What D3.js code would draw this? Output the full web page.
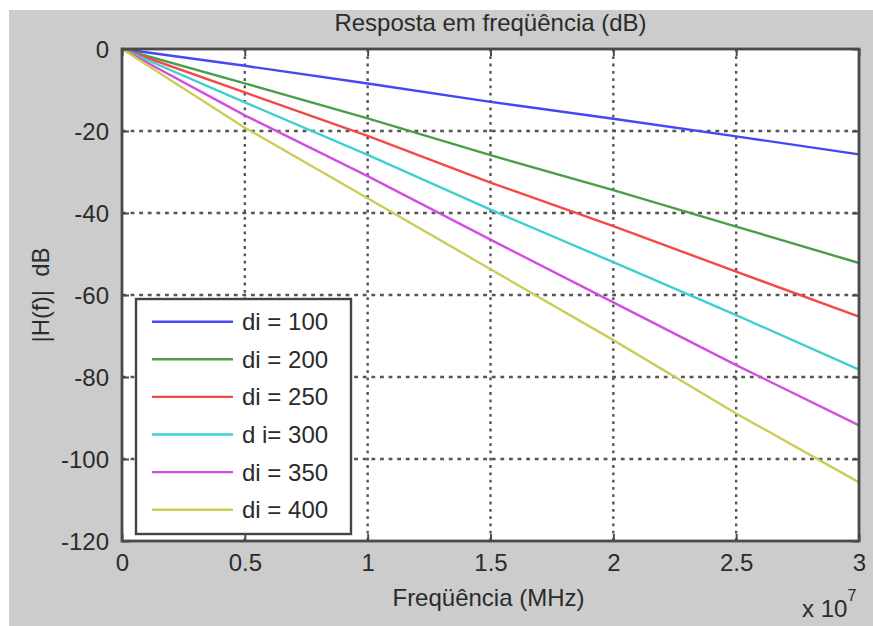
<!DOCTYPE html>
<html><head><meta charset="utf-8">
<script src="https://cdn.jsdelivr.net/npm/d3@7"></script>
<style>html,body{margin:0;padding:0;background:#fff;}svg{display:block;}</style>
</head><body>
<svg id="chart" width="873" height="626"></svg>
<script>
const freqs = [0, 0.5e7, 1e7, 1.5e7, 2e7, 2.5e7, 3e7];
const seriesNames = ["di = 100", "di = 200", "di = 250", "d i= 300", "di = 350", "di = 400"];
const di100 = [0, -4.1, -8.4, -12.9, -17.0, -21.3, -25.7];
const di200 = [0, -8.4, -16.9, -25.9, -34.4, -43.3, -52.2];
const di250 = [0, -10.6, -21.2, -32.6, -43.2, -54.3, -65.3];
const di300 = [0, -13.0, -25.8, -39.2, -52.0, -64.9, -78.2];
const di350 = [0, -16.2, -31.0, -46.5, -61.8, -77.1, -91.8];
const di400 = [0, -19.2, -36.4, -53.7, -71.0, -88.9, -105.7];
const seriesValues = [di100, di200, di250, di300, di350, di400];
const colors = ["#4646f5", "#4a9e4a", "#f54848", "#40cfcf", "#d24ee0", "#cccc5a"];
const xTicks = [0, 0.5e7, 1e7, 1.5e7, 2e7, 2.5e7, 3e7];
const xTickLabels = ["0", "0.5", "1", "1.5", "2", "2.5", "3"];
const yTicks = [0, -20, -40, -60, -80, -100, -120];
const yTickLabels = ["0", "-20", "-40", "-60", "-80", "-100", "-120"];

const svg = d3.select("#chart");
const font = "'Liberation Sans', Arial, sans-serif";
const txt = "#2b2b2b";
const axisCol = "#4a4a4a";

svg.append("rect").attr("x", 9).attr("y", 10).attr("width", 864).attr("height", 616).attr("fill", "#cccccc");

const L = 122, R = 859, T = 49, B = 541;
const x = d3.scaleLinear().domain([0, 3e7]).range([L, R]);
const y = d3.scaleLinear().domain([-120, 0]).range([B, T]);

svg.append("rect").attr("x", L).attr("y", T).attr("width", R - L).attr("height", B - T).attr("fill", "#fff");

// grid
const grid = svg.append("g");
grid.selectAll("line.vx").data(xTicks.slice(1, -1)).enter().append("line")
  .attr("x1", d => x(d)).attr("x2", d => x(d)).attr("y1", T).attr("y2", B)
  .attr("stroke", "#555").attr("stroke-width", 2.4).attr("stroke-dasharray", "2.8,4.5");
grid.selectAll("line.hy").data(yTicks.slice(1, -1)).enter().append("line")
  .attr("x1", L).attr("x2", R).attr("y1", d => y(d)).attr("y2", d => y(d))
  .attr("stroke", "#555").attr("stroke-width", 2.4).attr("stroke-dasharray", "3.8,4.8");

// lines
const line = d3.line().x((d, i) => x(freqs[i])).y(d => y(d));
svg.append("g").selectAll("path").data(seriesValues).enter().append("path")
  .attr("d", d => line(d)).attr("fill", "none")
  .attr("stroke", (d, i) => colors[i]).attr("stroke-width", 2.4);

// axes via d3
const xAxisB = d3.axisBottom(x).tickValues(xTicks).tickFormat((d, i) => xTickLabels[i]).tickSize(-7).tickPadding(12);
const gx = svg.append("g").attr("transform", `translate(0,${B})`).call(xAxisB);
const xAxisT = d3.axisTop(x).tickValues(xTicks).tickFormat("").tickSize(-7);
const gxt = svg.append("g").attr("transform", `translate(0,${T})`).call(xAxisT);
const yAxisL = d3.axisLeft(y).tickValues(yTicks).tickFormat((d, i) => yTickLabels[i]).tickSize(-7).tickPadding(13);
const gy = svg.append("g").attr("transform", `translate(${L},0)`).call(yAxisL);
const yAxisR = d3.axisRight(y).tickValues(yTicks).tickFormat("").tickSize(-7);
const gyr = svg.append("g").attr("transform", `translate(${R},0)`).call(yAxisR);
[gx, gxt, gy, gyr].forEach(g => {
  g.select(".domain").remove();
  g.selectAll(".tick line").attr("stroke", axisCol).attr("stroke-width", 2);
  g.selectAll(".tick text").attr("fill", txt).style("font-family", font).style("font-size", "24px");
});
gx.selectAll(".tick text").attr("dy", "0.71em").attr("y", 13);
gy.selectAll(".tick text").attr("dy", "0.35em");

svg.append("rect").attr("x", L).attr("y", T).attr("width", R - L).attr("height", B - T)
  .attr("fill", "none").attr("stroke", axisCol).attr("stroke-width", 2.8);

// legend
const lg = svg.append("g");
lg.append("rect").attr("x", 136).attr("y", 299).attr("width", 215).attr("height", 235)
  .attr("fill", "#fff").attr("stroke", "#444").attr("stroke-width", 2.4);
const rowY = i => 321.7 + i * 37.6;
seriesNames.forEach((n, i) => {
  lg.append("line").attr("x1", 152).attr("x2", 233).attr("y1", rowY(i)).attr("y2", rowY(i))
    .attr("stroke", colors[i]).attr("stroke-width", 2.4);
  lg.append("text").attr("x", 242).attr("y", rowY(i) + 8.5).text(n)
    .attr("fill", txt).style("font-family", font).style("font-size", "24px");
});

// titles
svg.append("text").attr("x", (L + R) / 2).attr("y", 31).attr("text-anchor", "middle")
  .text("Resposta em freqüência (dB)").attr("fill", txt).style("font-family", font).style("font-size", "24px");
svg.append("text").attr("x", (L + R) / 2 - 2).attr("y", 606).attr("text-anchor", "middle")
  .text("Freqüência (MHz)").attr("fill", txt).style("font-family", font).style("font-size", "24px");
svg.append("text").attr("transform", `translate(49,${(T + B) / 2}) rotate(-90)`).attr("text-anchor", "middle")
  .style("white-space", "pre")
  .text("|H(f)|  dB").attr("fill", txt).style("font-family", font).style("font-size", "24px");
const ex = svg.append("text").attr("x", 802).attr("y", 617).attr("fill", txt).style("font-family", font).style("font-size", "24px");
ex.append("tspan").text("x 10");
ex.append("tspan").attr("dy", -16).style("font-size", "16px").text("7");
</script>
</body></html>
